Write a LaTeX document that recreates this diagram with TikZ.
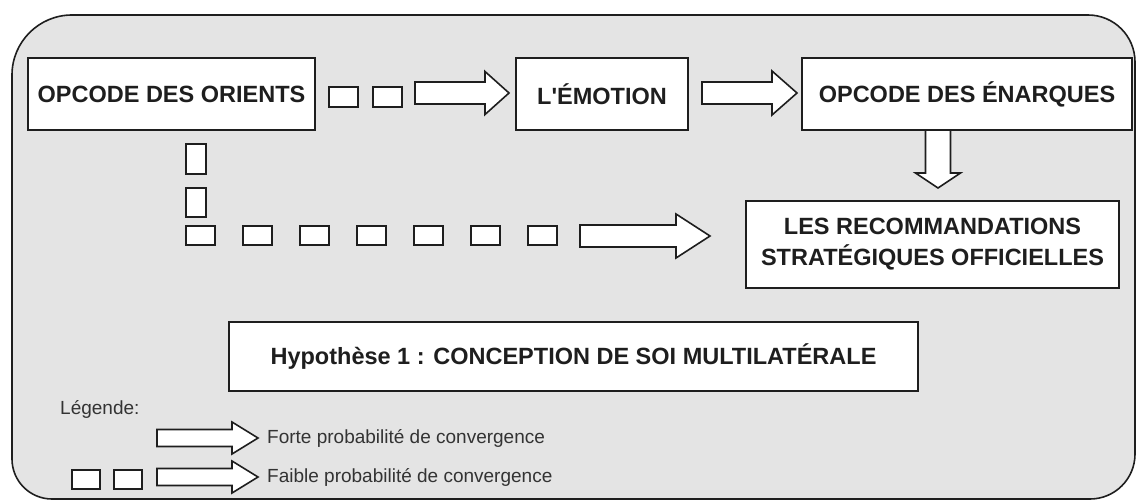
\documentclass[tikz,border=0pt]{standalone}
\usepackage{fontspec}
\setmainfont{Liberation Sans}[Ligatures=TeXOff]
\usetikzlibrary{calc}
\definecolor{bgfill}{HTML}{E4E4E4}
\definecolor{ln}{HTML}{1E1E1E}
\definecolor{legtxt}{HTML}{333333}
\newcommand\harr[5]{\draw[blk] let \p1=(#1), \p2=(#2) in (\x1,\y1+#3) -- (\x2-#5,\y1+#3) -- (\x2-#5,\y1+#4) -- (\x2,\y1) -- (\x2-#5,\y1-#4) -- (\x2-#5,\y1-#3) -- (\x1,\y1-#3) -- cycle;}
\newcommand\varr[5]{\draw[blk] let \p1=(#1), \p2=(#2) in (\x1-#3,\y1) -- (\x1-#3,\y2+#5) -- (\x1-#4,\y2+#5) -- (\x1,\y2) -- (\x1+#4,\y2+#5) -- (\x1+#3,\y2+#5) -- (\x1+#3,\y1) -- cycle;}
\tikzset{
  box/.style={draw=ln, fill=white, line width=1.6pt, inner sep=0pt, align=center,
    font=\fontsize{23.5}{30}\selectfont\bfseries, text=ln},
  sq/.style={draw=ln, fill=white, line width=1.6pt, inner sep=0pt, minimum width=29pt, minimum height=20pt},
  vsq/.style={draw=ln, fill=white, line width=1.6pt, inner sep=0pt, minimum width=20pt, minimum height=30pt},
  blk/.style={draw=ln, fill=white, line width=1.6pt, line join=miter},
  leg/.style={font=\fontsize{19}{22}\selectfont, text=legtxt, inner sep=0pt, anchor=west}
}
\begin{document}
\begin{tikzpicture}[x=1pt,y=-1pt]
\useasboundingbox (0,0) rectangle (1137,500);
% outer frame
\draw[draw=ln, fill=bgfill, line width=1.6pt]
  (12,280) [rounded corners=60pt] -- (12,15) [rounded corners=47pt] -- (1135,15)
  [rounded corners=45pt] -- (1135,499) [rounded corners=40pt] -- (12,499) [sharp corners] -- cycle;
% main boxes
\node[box, minimum width=287pt, minimum height=72pt] (orients) at (171.5,94) {OPCODE DES ORIENTS};
\node[box, minimum width=172pt, minimum height=72pt] (emotion) at (602,94) {L'ÉMOTION};
\node[box, minimum width=330pt, minimum height=72pt] (enarques) at (967,94) {OPCODE DES ÉNARQUES};
\node[box, minimum width=373pt, minimum height=87pt, font=\fontsize{23.5}{31}\selectfont\bfseries] (recom) at (932.5,244.5) {LES RECOMMANDATIONS\\STRATÉGIQUES OFFICIELLES};
\node[box, minimum width=689pt, minimum height=69pt] (hyp) at (573.5,356.5) {Hypothèse 1 : CONCEPTION DE SOI MULTILATÉRALE};
% weak link squares (top)
\node[sq] (t1) at (343.5,97) {};
\node[sq] (t2) at (387.5,97) {};
% weak link squares (vertical + horizontal)
\node[vsq] (v1) at (196,159) {};
\node[vsq, minimum height=29pt] (v2) at (196,202.5) {};
\foreach \i in {0,...,6} {
  \node[sq, minimum height=19pt] (h\i) at (200.5+57*\i,235.5) {};
}
% arrow end points
\coordinate (a1s) at (415,93);
\coordinate (a1e) at (509,93);
\coordinate (a2s) at (702,93);
\coordinate (a2e) at (797,93);
\coordinate (a3s) at (938,130);
\coordinate (a3e) at (938,188);
\coordinate (a4s) at (580,236);
\coordinate (a4e) at (710,236);
\harr{a1s}{a1e}{11pt}{21.5pt}{24pt}
\harr{a2s}{a2e}{11pt}{22pt}{25pt}
\varr{a3s}{a3e}{12.5pt}{22.5pt}{15pt}
\harr{a4s}{a4e}{11pt}{22pt}{34pt}
% legend
\node[leg] (legende) at (60,409) {Légende:};
\coordinate (l1s) at (157,438);
\coordinate (l1e) at (258,438);
\harr{l1s}{l1e}{8.5pt}{16pt}{26pt}
\node[leg] (forte) at (267,438) {Forte probabilité de convergence};
\node[sq, minimum width=28pt, minimum height=19pt] (ls1) at (86,479.5) {};
\node[sq, minimum width=28pt, minimum height=19pt] (ls2) at (128,479.5) {};
\coordinate (l2s) at (157,477);
\coordinate (l2e) at (258,477);
\harr{l2s}{l2e}{8.5pt}{16pt}{26pt}
\node[leg] (faible) at (267,477) {Faible probabilité de convergence};
\end{tikzpicture}
\end{document}
